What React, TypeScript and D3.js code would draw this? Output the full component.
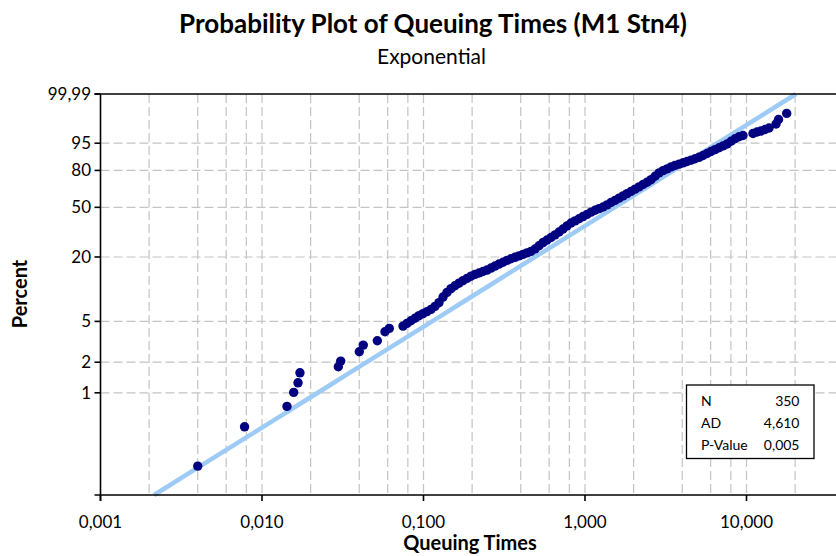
import React from 'react';
import * as d3 from 'd3';

// Queuing times (sorted) and their plotted cumulative percents
const QUEUE_TIMES = [
  0.004, 0.0078, 0.01428, 0.01571, 0.01671, 0.01718, 0.02969, 0.03072, 0.04004, 0.04238,
  0.05176, 0.05774, 0.06139,
  0.07466, 0.07903, 0.08367, 0.08858, 0.09379, 0.09929, 0.1051, 0.1113, 0.1178, 0.1247,
  0.1321, 0.1398, 0.148, 0.1567, 0.1659, 0.1757, 0.186, 0.1969, 0.2084, 0.2207,
  0.2336, 0.2474, 0.2619, 0.2772, 0.2935, 0.3108, 0.329, 0.3483, 0.3688, 0.3904,
  0.4133, 0.4376, 0.4633, 0.4905, 0.5193, 0.5498, 0.582, 0.6162, 0.6524, 0.6907,
  0.7312, 0.7742, 0.8196, 0.8677, 0.9187, 0.9726, 1.03, 1.09, 1.154, 1.222,
  1.294, 1.37, 1.45, 1.535, 1.625, 1.721, 1.822, 1.929, 2.042, 2.162,
  2.289, 2.423, 2.565, 2.716, 2.875, 3.044, 3.223, 3.412, 3.612, 3.824,
  4.049, 4.286, 4.538, 4.804, 5.086, 5.385, 5.701, 6.035, 6.39, 6.765,
  7.162, 7.582, 8.027, 8.499, 8.998, 9.51,
  10.97, 11.62, 12.3, 13.02, 13.79, 15.23, 15.79, 17.74,
];
const PERCENTS = [
  0.1884, 0.4614, 0.734, 1.009, 1.255, 1.574, 1.804, 2.052, 2.531, 2.943,
  3.241, 3.966, 4.279,
  4.504, 4.784, 5.068, 5.369, 5.676, 5.946, 6.215, 6.532, 6.98, 7.562,
  8.55, 9.472, 10.26, 10.92, 11.55, 12.19, 12.8, 13.41, 13.93, 14.35,
  14.81, 15.26, 15.91, 16.59, 17.29, 17.97, 18.65, 19.31, 19.87, 20.44,
  21.08, 21.75, 22.41, 23.51, 25.06, 26.67, 28.04, 29.42, 30.92, 32.6,
  34.5, 36.5, 38.4, 39.89, 41.37, 42.96, 44.59, 46.25, 47.73, 48.97,
  50.23, 51.99, 53.85, 55.65, 57.47, 59.39, 61.23, 63.16, 65.01, 66.94,
  68.85, 70.76, 72.83, 75.54, 78.17, 79.85, 81.16, 82.51, 83.54, 84.41,
  85.26, 86.09, 86.95, 87.79, 88.59, 89.59, 90.63, 91.61, 92.48, 93.3,
  94.02, 94.72, 95.65, 96.36, 96.88, 97.19,
  97.62, 97.91, 98.09, 98.33, 98.56, 99.04, 99.42, 99.73,
];

const X_TICKS = [0.001, 0.01, 0.1, 1, 10];
const X_TICK_LABELS = ['0,001', '0,010', '0,100', '1,000', '10,000'];
const X_GRID = [0.002, 0.004, 0.006, 0.008, 0.01, 0.02, 0.04, 0.06, 0.08, 0.1, 0.2, 0.4, 0.6, 0.8, 1, 2, 4, 6, 8, 10, 20];
const Y_TICKS = [1, 2, 5, 20, 50, 80, 95, 99.99];
const Y_TICK_LABELS = ['1', '2', '5', '20', '50', '80', '95', '99,99'];
const Y_GRID = [1, 2, 5, 20, 50, 80, 95];

const STAT_NAMES = ['N', 'AD', 'P-Value'];
const STAT_VALUES = ['350', '4,610', '0,005'];

// Fitted exponential mean
const FIT_MEAN = 2.2;
const PCT_MIN = 0.0975;
const PCT_MAX = 99.99;

const FONT = 'Lato, "Open Sans", sans-serif';

// Exponential probability scale: log10 of the cumulative hazard
const probT = (pct: number) => Math.log10(-Math.log(1 - pct / 100));

export default function App() {
  const W = 836;
  const H = 556;
  const left = 100.5;
  const top = 94;
  const bottom = 495;
  const pxPerDecade = 161.5;
  const xMaxVal = 40;

  const x = d3
    .scaleLog()
    .domain([0.001, xMaxVal])
    .range([left, left + pxPerDecade * Math.log10(xMaxVal / 0.001)]);
  const y = d3.scaleLinear().domain([probT(PCT_MIN), probT(PCT_MAX)]).range([bottom, top]);

  const points = QUEUE_TIMES.map((t, i) => ({ t, p: PERCENTS[i] }));

  // Fitted line: p = 1 - exp(-t / mean)
  const tLow = -FIT_MEAN * Math.log(1 - PCT_MIN / 100);
  const tHigh = -FIT_MEAN * Math.log(1 - PCT_MAX / 100);
  const fitPts = d3.range(0, 41).map((k) => {
    const t = tLow * Math.pow(tHigh / tLow, k / 40);
    return [t, 100 * (1 - Math.exp(-t / FIT_MEAN))] as [number, number];
  });
  const fitLine = d3
    .line<[number, number]>()
    .x((d) => x(d[0]))
    .y((d) => y(probT(d[1])))(fitPts);

  const right = W;
  const gridColor = '#c4c4c4';
  const dash = '9,4';

  return (
    <svg
      width={W}
      height={H}
      style={{ position: 'absolute', left: 0, top: 0, background: '#fff' }}
      fontFamily={FONT}
    >
      <rect x={0} y={0} width={W} height={H} fill="#fff" />

      {/* titles */}
      <text x={433} y={33} textAnchor="middle" fontSize={26} fontWeight="bold">
        Probability Plot of Queuing Times (M1 Stn4)
      </text>
      <text x={431.5} y={64} textAnchor="middle" fontSize={21}>
        Exponential
      </text>

      {/* grid */}
      <g stroke={gridColor} strokeWidth={1.2} strokeDasharray={dash}>
        {X_GRID.map((g) => (
          <line key={'gx' + g} x1={x(g)} x2={x(g)} y1={top} y2={bottom} />
        ))}
        {Y_GRID.map((g) => (
          <line key={'gy' + g} x1={left} x2={right} y1={y(probT(g))} y2={y(probT(g))} />
        ))}
      </g>

      {/* fitted line */}
      <path d={fitLine ?? ''} fill="none" stroke="#9dcbf6" strokeWidth={4.5} />

      {/* data points */}
      <g fill="#000080">
        {points.map((d, i) => (
          <circle key={i} cx={x(d.t)} cy={y(probT(d.p))} r={4.7} />
        ))}
      </g>

      {/* axes */}
      <g stroke="#000" strokeWidth={1.6}>
        <line x1={left} x2={left} y1={top} y2={bottom + 6} />
        <line x1={left - 6} x2={right} y1={bottom} y2={bottom} />
        <line x1={left - 6} x2={right} y1={top} y2={top} />
        {X_TICKS.map((t) => (
          <line key={'xt' + t} x1={x(t)} x2={x(t)} y1={bottom} y2={bottom + 6} />
        ))}
        {Y_TICKS.map((p) => (
          <line key={'yt' + p} x1={left - 6} x2={left} y1={y(probT(p))} y2={y(probT(p))} />
        ))}
      </g>

      {/* tick labels */}
      <g fontSize={17} fill="#000">
        {X_TICKS.map((t, i) => (
          <text key={'xl' + t} x={x(t)} y={528} textAnchor="middle">
            {X_TICK_LABELS[i]}
          </text>
        ))}
        {Y_TICKS.map((p, i) => (
          <text key={'yl' + p} x={91} y={y(probT(p))} dy="0.35em" textAnchor="end">
            {Y_TICK_LABELS[i]}
          </text>
        ))}
      </g>

      {/* axis titles */}
      <text x={470} y={550} textAnchor="middle" fontSize={20} fontWeight="bold">
        Queuing Times
      </text>
      <text
        transform="translate(27,294) rotate(-90)"
        textAnchor="middle"
        fontSize={20}
        fontWeight="bold"
      >
        Percent
      </text>

      {/* statistics box */}
      <rect x={686.5} y={385} width={127.5} height={73.5} fill="#fff" stroke="#000" strokeWidth={1.3} />
      <g fontSize={14}>
        {STAT_NAMES.map((n, i) => (
          <g key={n}>
            <text x={701} y={406 + i * 22}>
              {n}
            </text>
            <text x={799.5} y={406 + i * 22} textAnchor="end">
              {STAT_VALUES[i]}
            </text>
          </g>
        ))}
      </g>
    </svg>
  );
}
